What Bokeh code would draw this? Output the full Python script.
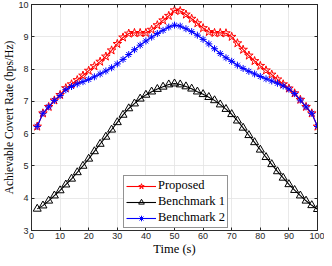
from bokeh.plotting import figure
from bokeh.models import (Range1d, FixedTicker, LinearAxis, Legend, LegendItem)
from bokeh.embed import file_html
from bokeh.resources import INLINE

time_s = [2, 4, 6, 8, 10, 12, 14, 16, 18, 20, 22, 24, 26, 28, 30, 32, 34, 36, 38, 40,
          42, 44, 46, 48, 50, 52, 54, 56, 58, 60, 62, 64, 66, 68, 70, 72, 74, 76, 78, 80,
          82, 84, 86, 88, 90, 92, 94, 96, 98, 100]

proposed = [6.22, 6.63, 6.83, 7.03, 7.20, 7.41, 7.53, 7.66, 7.80, 7.95,
            8.09, 8.23, 8.39, 8.58, 8.78, 8.98, 9.10, 9.12, 9.12, 9.12,
            9.22, 9.36, 9.51, 9.65, 9.82, 9.80, 9.69, 9.56, 9.42, 9.27,
            9.15, 9.12, 9.12, 9.11, 9.00, 8.80, 8.60, 8.42, 8.25, 8.10,
            7.96, 7.83, 7.68, 7.53, 7.40, 7.25, 7.05, 6.83, 6.63, 6.22]

benchmark1 = [3.67, 3.77, 3.92, 4.08, 4.24, 4.42, 4.60, 4.80, 5.00, 5.22,
              5.45, 5.68, 5.90, 6.12, 6.35, 6.58, 6.78, 6.93, 7.08, 7.20,
              7.30, 7.38, 7.45, 7.52, 7.55, 7.52, 7.46, 7.39, 7.30, 7.22,
              7.13, 7.03, 6.90, 6.76, 6.60, 6.40, 6.18, 5.95, 5.73, 5.50,
              5.27, 5.05, 4.83, 4.63, 4.43, 4.25, 4.08, 3.92, 3.78, 3.66]

benchmark2 = [6.22, 6.63, 6.83, 7.03, 7.18, 7.36, 7.46, 7.54, 7.61, 7.68,
              7.76, 7.85, 7.94, 8.04, 8.16, 8.30, 8.45, 8.60, 8.74, 8.87,
              8.99, 9.10, 9.20, 9.30, 9.36, 9.33, 9.25, 9.16, 9.05, 8.92,
              8.78, 8.63, 8.48, 8.35, 8.24, 8.12, 8.02, 7.93, 7.85, 7.77,
              7.70, 7.63, 7.56, 7.48, 7.38, 7.24, 7.04, 6.83, 6.63, 6.22]

x_ticks = [0, 10, 20, 30, 40, 50, 60, 70, 80, 90, 100]
y_ticks = [3, 4, 5, 6, 7, 8, 9, 10]
labels = ["Proposed", "Benchmark 1", "Benchmark 2"]

AX = "#262626"
SERIF = "Liberation Serif"
SANS = "Liberation Sans"

p = figure(width=324, height=258, output_backend="svg", toolbar_location=None,
           x_range=Range1d(0, 100), y_range=Range1d(3, 10),
           min_border_left=2, min_border_right=7, min_border_top=4, min_border_bottom=2)
p.background_fill_color = "white"
p.border_fill_color = "white"
p.outline_line_color = AX
p.outline_line_width = 0.8

for ax in (p.xaxis[0], p.yaxis[0]):
    ax.axis_line_color = AX
    ax.axis_line_width = 0.8
    ax.major_tick_line_color = AX
    ax.major_tick_in = 3
    ax.major_tick_out = 0
    ax.minor_tick_line_color = None
    ax.major_label_text_font = SANS
    ax.major_label_text_font_size = "9px"
    ax.major_label_text_color = AX
    ax.axis_label_text_font = SERIF
    ax.axis_label_text_font_style = "normal"
    ax.axis_label_text_color = "black"

p.xaxis[0].axis_label_text_font_size = "12.5px"
p.yaxis[0].axis_label_text_font_size = "11.5px"
p.xaxis[0].ticker = FixedTicker(ticks=x_ticks)
p.yaxis[0].ticker = FixedTicker(ticks=y_ticks)
p.xaxis[0].axis_label = "Time (s)"
p.yaxis[0].axis_label = "Achievable Covert Rate (bps/Hz)"
p.xaxis[0].major_label_standoff = 2
p.xaxis[0].axis_label_standoff = 0
p.yaxis[0].major_label_standoff = 3
p.yaxis[0].axis_label_standoff = 0

# mirrored tick marks on top and right (box on), drawn as unlabeled minor ticks
top = LinearAxis(ticker=FixedTicker(ticks=[], minor_ticks=x_ticks),
                 major_tick_line_color=None, minor_tick_in=3, minor_tick_out=0,
                 minor_tick_line_color=AX, axis_line_color=AX)
right = LinearAxis(ticker=FixedTicker(ticks=[], minor_ticks=y_ticks),
                   major_tick_line_color=None, minor_tick_in=3, minor_tick_out=0,
                   minor_tick_line_color=AX, axis_line_color=AX)
p.add_layout(top, "above")
p.add_layout(right, "right")

p.xgrid.ticker = FixedTicker(ticks=x_ticks)
p.ygrid.ticker = FixedTicker(ticks=y_ticks)
p.grid.grid_line_color = "#e3e3e3"
p.grid.grid_line_width = 0.8

r1l = p.line(time_s, proposed, line_color="#ff0000", line_width=1.1)
r1m = p.scatter(time_s, proposed, marker="star", size=9, line_color="#ff0000",
                fill_alpha=0, line_width=1.0)
r2l = p.line(time_s, benchmark1, line_color="black", line_width=1.1)
r2m = p.scatter(time_s, benchmark1, marker="triangle", size=8, line_color="black",
                fill_alpha=0, line_width=1.0)
r3l = p.line(time_s, benchmark2, line_color="#0000ff", line_width=1.1)
r3m = p.scatter(time_s, benchmark2, marker="asterisk", size=7, line_color="#0000ff",
                line_width=1.0)

legend = Legend(items=[LegendItem(label=labels[0], renderers=[r1l, r1m]),
                       LegendItem(label=labels[1], renderers=[r2l, r2m]),
                       LegendItem(label=labels[2], renderers=[r3l, r3m])],
                location=(92, 2))
legend.label_text_font = SERIF
legend.label_text_font_size = "12.5px"
legend.label_text_color = "black"
legend.glyph_width = 30
legend.glyph_height = 14
legend.label_height = 14
legend.label_standoff = 2
legend.spacing = 1
legend.padding = 2
legend.margin = 0
legend.border_line_color = AX
legend.border_line_width = 0.8
legend.background_fill_color = "white"
legend.background_fill_alpha = 1
p.add_layout(legend, "center")

open("out.html", "w").write(file_html(p, INLINE))
